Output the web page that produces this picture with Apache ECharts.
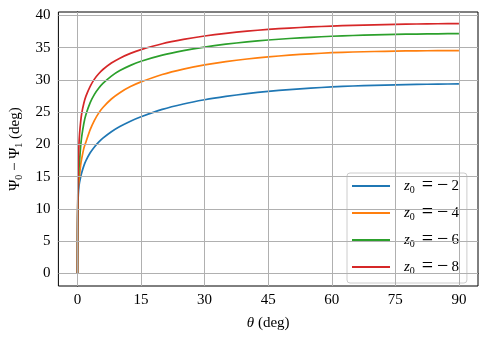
<!DOCTYPE html>
<html>
<head>
<meta charset="utf-8">
<script src="https://cdn.jsdelivr.net/npm/echarts@6/dist/echarts.min.js"></script>
<style>html,body{margin:0;padding:0;background:#fff}#c{width:488px;height:342px}</style>
</head>
<body>
<div id="c"></div>
<script>
var theta = [0, 0.02, 0.05, 0.1, 0.2, 0.35, 0.5, 0.75, 1, 1.5, 2, 3, 4, 5, 6, 8, 10, 12.5, 15, 20, 25, 30, 35, 40, 45, 50, 55, 60, 65, 70, 75, 80, 85, 90];
var z2 = [0, 5, 8.5, 10.6, 12.3, 13.5, 14.16, 14.97, 15.63, 16.68, 17.49, 18.71, 19.62, 20.36, 20.98, 21.98, 22.78, 23.61, 24.3, 25.44, 26.28, 26.93, 27.45, 27.88, 28.23, 28.51, 28.74, 28.92, 29.06, 29.17, 29.25, 29.31, 29.36, 29.39];
var z4 = [0, 5.5, 9, 11.5, 13.5, 14.3, 15.3, 16.8, 17.8, 19.4, 20.4, 22.3, 23.74, 24.86, 25.73, 27.05, 28.03, 28.97, 29.7, 30.84, 31.68, 32.33, 32.84, 33.25, 33.58, 33.84, 34.05, 34.22, 34.33, 34.41, 34.47, 34.51, 34.54, 34.56];
var z6 = [0, 6, 9.5, 12.3, 14.5, 16.3, 17.53, 19.72, 21.22, 23.25, 24.63, 26.49, 27.76, 28.71, 29.46, 30.6, 31.45, 32.26, 32.9, 33.85, 34.55, 35.1, 35.54, 35.9, 36.19, 36.42, 36.61, 36.77, 36.89, 36.99, 37.06, 37.11, 37.15, 37.18];
var z8 = [0, 6.5, 10, 13.5, 17.0, 20.0, 21.7, 23.5, 24.8, 26.4, 27.5, 29.02, 30.13, 30.96, 31.62, 32.62, 33.38, 34.12, 34.7, 35.61, 36.28, 36.81, 37.23, 37.56, 37.83, 38.04, 38.21, 38.35, 38.46, 38.55, 38.62, 38.67, 38.71, 38.73];
var seriesNames = ['-2', '-4', '-6', '-8'];
var seriesData = [z2, z4, z6, z8];
var colors = ['#1f77b4', '#ff7f0e', '#2ca02c', '#d62728'];
var xTicks = [0, 15, 30, 45, 60, 75, 90];
var yTicks = [0, 5, 10, 15, 20, 25, 30, 35, 40];

var FONT = 'Liberation Serif';
var chart = echarts.init(document.getElementById('c'), null, {renderer: 'canvas'});

function pairs(xs, ys) { return xs.map(function (x, i) { return [x, ys[i]]; }); }

var series = seriesNames.map(function (n, i) {
  return {
    name: n,
    type: 'line',
    data: pairs(theta, seriesData[i]),
    symbol: 'none',
    smooth: 0.2,
    lineStyle: {color: colors[i], width: 1.7},
    itemStyle: {color: colors[i]},
    z: 3
  };
});

var gridLines = [];
xTicks.forEach(function (v) { gridLines.push({xAxis: v}); });
yTicks.forEach(function (v) { gridLines.push({yAxis: v}); });
series.push({
  name: 'grid',
  type: 'line',
  data: [],
  silent: true,
  z: 1,
  markLine: {
    silent: true,
    symbol: ['none', 'none'],
    label: {show: false},
    lineStyle: {color: '#b0b0b0', width: 1, type: 'solid'},
    data: gridLines,
    animation: false
  }
});

var sub = {fontFamily: FONT, fontSize: 10, lineHeight: 10, verticalAlign: 'bottom', color: '#000'};
var legendIcon = 'path://M0,0 H38 V2 H0 Z';

chart.setOption({
  animation: false,
  backgroundColor: '#fff',
  grid: {left: 57, top: 12, right: 10, bottom: 56, show: true, borderColor: '#000', borderWidth: 1, backgroundColor: 'transparent'},
  xAxis: {
    type: 'value', min: -4.5, max: 94.5,
    splitLine: {show: false},
    axisLine: {show: true, lineStyle: {color: '#000'}},
    axisTick: {show: true, customValues: xTicks, length: 4, inside: false, lineStyle: {color: '#000'}},
    axisLabel: {customValues: xTicks, fontFamily: FONT, fontSize: 15, color: '#000', margin: 7},
    name: '{it|θ} {n|(deg)}',
    nameLocation: 'middle',
    nameGap: 30,
    nameTextStyle: {
      fontFamily: FONT, fontSize: 15, color: '#000',
      rich: {it: {fontFamily: FONT, fontSize: 15, fontStyle: 'italic', color: '#000'}, n: {fontFamily: FONT, fontSize: 15, color: '#000'}}
    }
  },
  yAxis: {
    type: 'value', min: -1.93, max: 40.53,
    splitLine: {show: false},
    axisLine: {show: true, lineStyle: {color: '#000'}},
    axisTick: {show: true, customValues: yTicks, length: 4, lineStyle: {color: '#000'}},
    axisLabel: {customValues: yTicks, fontFamily: FONT, fontSize: 15, color: '#000', margin: 8},
    name: '{n|Ψ}{s|0}{n| − Ψ}{s|1}{n| (deg)}',
    nameLocation: 'middle',
    nameGap: 28,
    nameTextStyle: {
      fontFamily: FONT, fontSize: 15, color: '#000',
      rich: {n: {fontFamily: FONT, fontSize: 15, lineHeight: 18, color: '#000'}, s: sub}
    }
  },
  legend: {
    data: seriesNames.map(function (n) { return {name: n, icon: legendIcon}; }),
    orient: 'vertical',
    left: 347, top: 173,
    itemWidth: 38, itemHeight: 2, itemGap: 7,
    padding: [3, 8, 6, 5],
    borderColor: '#cccccc', borderWidth: 1, borderRadius: 3,
    backgroundColor: 'rgba(255,255,255,0.85)',
    formatter: function (n) { return '{z|z}{s|0}{eq|=}{m|−}{t|' + n.replace('-', '') + '}'; },
    textStyle: {
      fontFamily: FONT, fontSize: 15, color: '#000',
      rich: {
        z: {fontFamily: FONT, fontSize: 15, fontStyle: 'italic', lineHeight: 18, color: '#000', padding: [0, 0, 0, 9]},
        s: sub,
        eq: {fontFamily: FONT, fontSize: 20, lineHeight: 18, color: '#000', padding: [0, 4, 0, 7]},
        m: {fontFamily: FONT, fontSize: 20, lineHeight: 18, color: '#000', padding: [0, 3, 0, 0]},
        t: {fontFamily: FONT, fontSize: 15, lineHeight: 18, color: '#000'}
      }
    }
  },
  series: series
});
</script>
</body>
</html>
